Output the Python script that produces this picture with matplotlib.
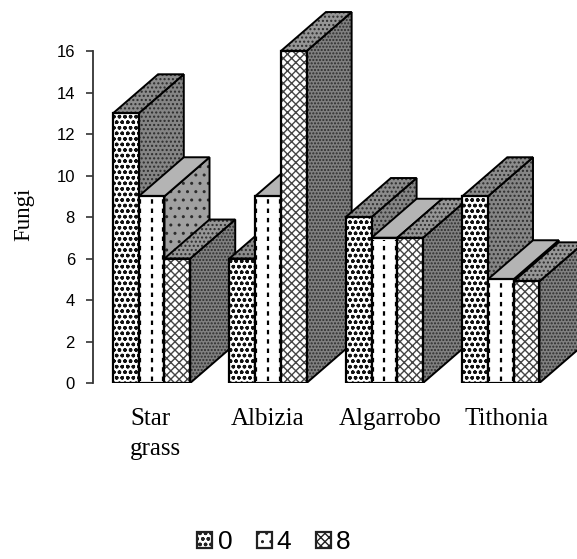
import numpy as np
import matplotlib
matplotlib.use("Agg")
import matplotlib.pyplot as plt
from matplotlib.patches import Polygon, Patch

categories = ["Star\ngrass", "Albizia", "Algarrobo", "Tithonia"]
series_names = ["0", "4", "8"]
val_0 = [13, 6, 8, 9]
val_4 = [9, 9, 7, 5]
val_8 = [6, 16, 7, 4.9]
y_ticks = [0, 2, 4, 6, 8, 10, 12, 14, 16]

W, H = 577, 559
bar_w = 0.221
dx, dy = 0.387, 1.88  # oblique depth of the fake 3d

plt.rcParams["hatch.linewidth"] = 1.0
fig = plt.figure(figsize=(W / 100, H / 100), dpi=100)
ax = fig.add_axes([93 / W, (H - 383) / H, (W - 93) / W, 383 / H])
ax.set_xlim(-0.172, 3.986)
ax.set_ylim(0, 18.46)

front_hatch = ["ooo", "", "xxxx"]
front_hatch_color = ["#111111", "#111111", "#444444"]
side_color = ["#858585", "#a0a0a0", "#808080"]
top_color = ["#8c8c8c", "#b4b4b4", "#969696"]
side_hatch = ["....", "..", "....."]
top_hatch = ["....", "", "...."]
shade_hatch_color = "#2c2c2c"


def face(pts, color, hatch, hatch_color, lw=1.4):
    # hatch colour follows the edge colour, so the outline gets its own patch
    ax.add_patch(Polygon(pts, facecolor=color, edgecolor=hatch_color, hatch=hatch, lw=0))
    ax.add_patch(Polygon(pts, fill=False, edgecolor="black", lw=lw))


def draw_bar(x, v, k):
    x2 = x + bar_w
    face([(x2, 0), (x2 + dx, dy), (x2 + dx, v + dy), (x2, v)],
         side_color[k], side_hatch[k], shade_hatch_color)
    face([(x, v), (x + dx, v + dy), (x2 + dx, v + dy), (x2, v)],
         top_color[k], top_hatch[k], shade_hatch_color)
    face([(x, 0), (x2, 0), (x2, v), (x, v)],
         "white", front_hatch[k], front_hatch_color[k], lw=1.6)
    if k == 1:
        for f in [0.04, 0.5, 0.96]:
            ax.plot([x + f * bar_w] * 2, [0.1, v - 0.1], color="black", lw=1.6,
                    ls=(0, (2, 2.2)), solid_capstyle="butt")


for i in range(len(categories)):
    for k, vals in enumerate([val_0, val_4, val_8]):
        draw_bar(i + k * bar_w, vals[i], k)

for s in ["top", "right", "bottom"]:
    ax.spines[s].set_visible(False)
ax.spines["left"].set_bounds(0, 16)
ax.spines["left"].set_linewidth(1.3)
ax.spines["left"].set_color("#333333")
ax.set_yticks(y_ticks)
ax.tick_params(axis="y", length=5, width=1.2, color="#333333", pad=8)
for t in ax.get_yticklabels():
    t.set_fontfamily("Liberation Sans")
    t.set_fontsize(12)

ax.set_xticks([0.365, 1.33, 2.38, 3.38])
ax.set_xticklabels(categories, family="Liberation Serif", fontsize=18, linespacing=1.45,
                   multialignment="left", ha="center", va="top")
ax.tick_params(axis="x", length=0, pad=18)
fig.text(24 / W, 1 - 214 / H, "Fungi", family="Liberation Serif", fontsize=16.5, rotation=90,
         ha="center", va="center")

legend_hatch = ["ooo", "..", "xxxx"]
handles = [Patch(facecolor="white", edgecolor="#222222", hatch=h, lw=1.6, label=n)
           for h, n in zip(legend_hatch, series_names)]
fig.legend(handles=handles, ncol=3, frameon=False, loc="center", bbox_to_anchor=(274 / W, 1 - 542 / H),
           prop={"family": "Liberation Sans", "size": 19}, handlelength=0.57, handleheight=0.57,
           handletextpad=0.2, columnspacing=0.92, borderpad=0)

fig.savefig("out.png", dpi=100)
